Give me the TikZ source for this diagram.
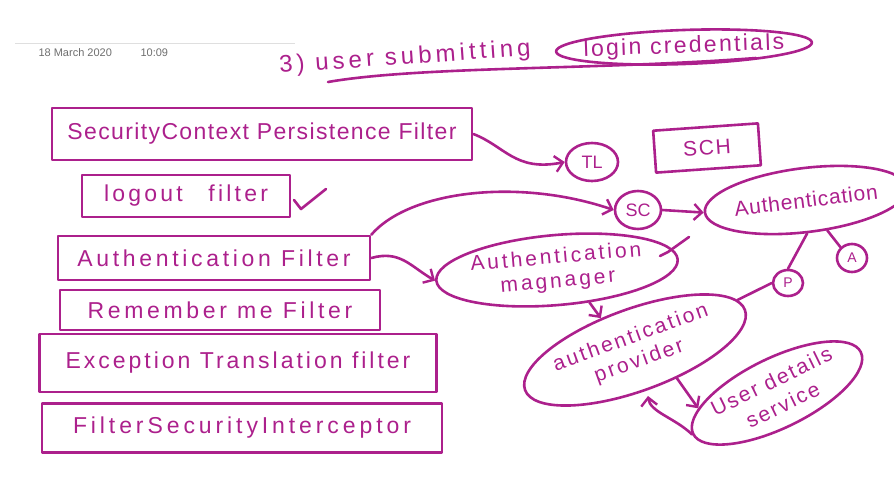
\documentclass[tikz,border=0pt]{standalone}
\usepackage{fontspec}
\setmainfont{Liberation Sans}
\usetikzlibrary{shapes.geometric,arrows.meta}
\definecolor{ink}{RGB}{172,32,140}
\definecolor{datec}{RGB}{110,110,110}
\newcommand{\lsp}[1]{\addfontfeature{LetterSpace=#1}}
\tikzset{
  pen/.style={draw=ink, line width=2.6pt, line cap=round, line join=round},
  fbox/.style={pen, rectangle, text=ink, inner sep=2pt},
  oval/.style={pen, ellipse, text=ink, inner sep=0pt, align=center},
  conn/.style={pen, -{Straight Barb[length=8pt,width=16pt,line width=2.4pt]}},
  plain/.style={pen}
}
\begin{document}
\begin{tikzpicture}[x=1pt,y=-1pt]
\useasboundingbox (0,0) rectangle (894,479);
% header
\draw[gray!25, line width=1pt] (15,43) -- (295,43);
\node[text=datec, font=\fontsize{11}{13}\selectfont, anchor=west] (date) at (35,53) {18 March 2020};
\node[text=datec, font=\fontsize{11}{13}\selectfont, anchor=west] (time) at (137,53) {10:09};
\node[text=ink, font=\fontsize{24}{28}\selectfont\lsp{17}, rotate=4] (title) at (405,58) {3) user submitting};
\node[oval, inner sep=-10pt, minimum width=256pt, minimum height=34pt, font=\fontsize{23}{26}\selectfont\lsp{10}, rotate=2] (login) at (684,47) {login credentials};
\coordinate (ulA) at (328,82);
\coordinate (ulB) at (756,58);
\draw[plain] (ulA) .. controls (420,66) and (600,70) .. (ulB);
% filter chain
\node[fbox, minimum width=420pt, minimum height=52pt, font=\fontsize{23}{26}\selectfont\lsp{6}] (scpf) at (262,134) {SecurityContext Persistence Filter};
\node[fbox, minimum width=208pt, minimum height=42pt, font=\fontsize{23}{26}\selectfont\lsp{14}] (logout) at (186,196) {logout\hspace{16pt} filter};
\node[fbox, minimum width=312pt, minimum height=44pt, font=\fontsize{23}{26}\selectfont\lsp{16}] (authf) at (214,258) {Authentication Filter};
\node[fbox, minimum width=320pt, minimum height=40pt, font=\fontsize{23}{26}\selectfont\lsp{16}] (remf) at (220,310) {Remember me Filter};
\node[fbox, minimum width=397pt, minimum height=58pt, font=\fontsize{23}{26}\selectfont\lsp{13}] (exf) at (238,363) {Exception Translation filter};
\node[fbox, minimum width=400pt, minimum height=49pt, font=\fontsize{23}{26}\selectfont\lsp{17}] (fsi) at (242,428) {FilterSecurityInterceptor};
\coordinate (chk1a) at (294,200);
\coordinate (chk1b) at (301,209);
\coordinate (chk1c) at (326,189);
\draw[plain] (chk1a) -- (chk1b) -- (chk1c);
% right side
\node[oval, minimum width=52pt, minimum height=38pt, font=\fontsize{18}{20}\selectfont] (TL) at (592,162) {TL};
\node[fbox, minimum width=105pt, minimum height=42pt, rotate=4, font=\fontsize{21}{22}\selectfont\lsp{8}] (SCH) at (707,148) {SCH};
\node[oval, minimum width=46pt, minimum height=38pt, font=\fontsize{18}{20}\selectfont] (SC) at (638,210) {SC};
\node[oval, minimum width=172pt, minimum height=64pt, rotate=7, font=\fontsize{21}{24}\selectfont\lsp{4}] (auth) at (806,200) {Authentication};
\node[oval, minimum width=30pt, minimum height=28pt, font=\fontsize{14}{16}\selectfont] (A) at (852,258) {A};
\node[oval, minimum width=30pt, minimum height=26pt, font=\fontsize{14}{16}\selectfont] (P) at (788,283) {P};
\node[oval, minimum width=236pt, minimum height=70pt, rotate=5, font=\fontsize{21}{24}\selectfont\lsp{14}] (mgr) at (557,270) {Authentication\\magnager};
\node[oval, minimum width=234pt, minimum height=82pt, rotate=20, font=\fontsize{21}{25}\selectfont\lsp{12}] (prov) at (635,350) {authentication\\provider};
\node[oval, minimum width=182pt, minimum height=70pt, rotate=26, font=\fontsize{21}{26}\selectfont\lsp{10}] (uds) at (777,393) {User details\\service};
% connectors
\draw[conn] (scpf.east) .. controls (505,146) and (515,172) .. (TL.west);
\draw[conn] (authf.north east) .. controls (410,190) and (520,178) .. (SC.west);
\draw[conn] (authf.east) .. controls (400,250) and (410,266) .. (mgr.west);
\draw[conn] (SC.east) -- (auth.west);
\draw[plain] (auth.-95) -- (P.north);
\draw[plain] (A.north west) -- (auth.-62);
\draw[plain] (P.west) -- (prov.6);
\draw[conn] (mgr.-50) -- (prov.117);
\draw[conn] (prov.-54) -- (uds.165);
\coordinate (back) at (648,396);
\draw[conn] (uds.west) .. controls (675,418) and (650,412) .. (back);
\coordinate (chk2a) at (660,256);
\coordinate (chk2b) at (668,252);
\coordinate (chk2c) at (689,237);
\draw[plain] (chk2a) -- (chk2b) -- (chk2c);
\end{tikzpicture}
\end{document}
